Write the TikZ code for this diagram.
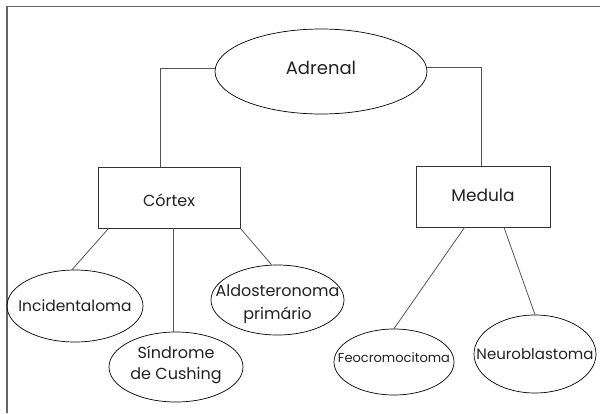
\documentclass[tikz,border=0pt]{standalone}
\usepackage{fontspec}
\setmainfont{Poppins}
\usetikzlibrary{shapes.geometric}
\definecolor{txt}{HTML}{222222}
\definecolor{lin}{HTML}{555555}
\tikzset{
  oval/.style={ellipse, draw=black, line width=0.7pt, inner sep=0pt},
  box/.style={rectangle, draw=black!80, line width=0.9pt, inner sep=0pt},
  lbl/.style={text=txt, align=center, inner sep=0pt, font=#1},
  lbl/.default={\fontsize{16}{20}\selectfont},
  conn/.style={draw=lin, line width=0.8pt},
  frame/.style={draw=black!60, line width=1.3pt}
}
\begin{document}
\begin{tikzpicture}[x=1pt,y=-1pt]
\useasboundingbox (0,0) rectangle (600,413);
\coordinate (ftop) at (600,6.5);
\coordinate (fcorner) at (7,6.5);
\coordinate (fbot) at (7,413);
\draw[frame] (ftop) -- (fcorner) -- (fbot);

\node[oval, minimum width=212pt, minimum height=85pt,
  label={[lbl={\fontsize{18}{22}\selectfont}, yshift=4pt]center:Adrenal}] (adrenal) at (321,71.5) {};
\node[box, minimum width=142pt, minimum height=61pt,
  label={[lbl={\fontsize{16}{20}\selectfont}, yshift=-3pt]center:Córtex}] (cortex) at (169,197.5) {};
\node[box, minimum width=134pt, minimum height=61pt,
  label={[lbl={\fontsize{17}{20}\selectfont}, yshift=1.5pt]center:Medula}] (medula) at (483,196.5) {};

\node[oval, minimum width=136pt, minimum height=72pt,
  label={[lbl={\fontsize{15.5}{20}\selectfont}]center:Incidentaloma}] (incid) at (75,306) {};
\node[oval, minimum width=134pt, minimum height=70pt,
  label={[lbl={\fontsize{16}{21}\selectfont}, yshift=2pt]center:{Síndrome\\de Cushing}}] (sind) at (176,367) {};
\node[oval, minimum width=133pt, minimum height=70pt,
  label={[lbl={\fontsize{16}{23}\selectfont}, yshift=-4pt]center:{Aldosteronoma\\primário}}] (aldo) at (277.5,300) {};
\node[oval, minimum width=120pt, minimum height=66pt,
  label={[lbl={\fontsize{13}{16}\selectfont}, yshift=4pt]center:Feocromocitoma}] (feo) at (394,362) {};
\node[oval, minimum width=122pt, minimum height=78pt,
  label={[lbl={\fontsize{15}{18}\selectfont}]center:Neuroblastoma}] (neuro) at (535,354) {};

\draw[conn] ([yshift=3.5pt]adrenal.west) -| ([xshift=-9pt]cortex.north);
\draw[conn] ([yshift=4.5pt]adrenal.east) -| ([xshift=-2pt]medula.north);
\draw[conn] ([xshift=11pt]cortex.south west) -- ([xshift=-3pt]incid.north);
\draw[conn] ([xshift=4pt]cortex.south) -- ([xshift=-3pt]sind.north);
\draw[conn] (cortex.south east) -- ([xshift=-6pt]aldo.north);
\draw[conn] ([xshift=49pt]medula.south west) -- (feo.north);
\draw[conn] ([xshift=21pt]medula.south) -- (neuro.north);
\end{tikzpicture}
\end{document}
